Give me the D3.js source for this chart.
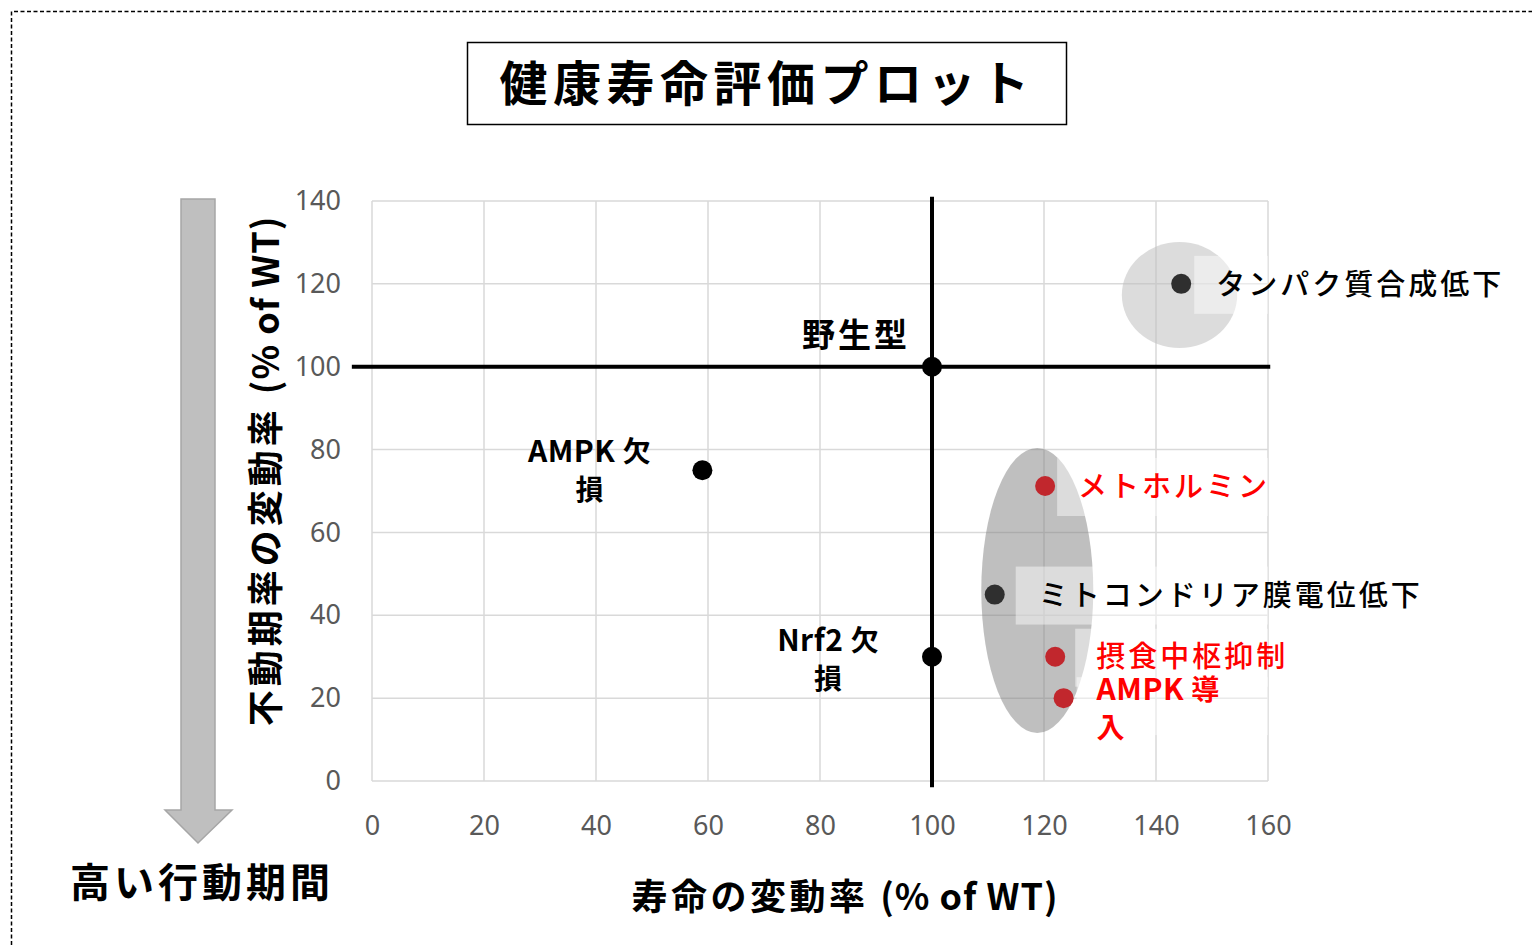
<!DOCTYPE html>
<html lang="ja">
<head>
<meta charset="UTF-8">
<title>健康寿命評価プロット</title>
<script src="https://cdnjs.cloudflare.com/ajax/libs/d3/7.9.0/d3.min.js"></script>
<style>
  body { margin: 0; background: #fff; }
  svg { display: block; font-family: "Noto Sans CJK JP", "Noto Sans", sans-serif; }
  .tick text { fill: #595959; font-size: 27px; font-family: "Noto Sans", "Noto Sans CJK JP", sans-serif; }
</style>
</head>
<body>
<svg id="chart" width="1532" height="945"></svg>
<script>
// data
const names   = ['野生型', 'AMPK 欠損', 'Nrf2 欠損', 'タンパク質合成低下', 'メトホルミン', 'ミトコンドリア膜電位低下', '摂食中枢抑制', 'AMPK 導入'];
const lifespan = [100, 59, 100, 144.5, 120.2, 111.2, 122, 123.5];   // x, % of WT
const immobile = [100, 75, 30, 120, 71.2, 45, 30, 20];              // y, % of WT
const kind     = ['wt', 'mutant', 'mutant', 'mutant', 'drug', 'mutant', 'drug', 'drug'];
const xTicks = [0, 20, 40, 60, 80, 100, 120, 140, 160];
const yTicks = [0, 20, 40, 60, 80, 100, 120, 140];

const svg = d3.select('#chart');
const W = 1532, H = 945;

// dashed frame
svg.append('path')
    .attr('d', `M11.5,${H} V11.5 H${W}`)
    .attr('fill', 'none').attr('stroke', '#000').attr('stroke-width', 1.5)
    .attr('stroke-dasharray', '4,2.5');

// title box
svg.append('rect').attr('x', 467.5).attr('y', 42.5).attr('width', 599).attr('height', 82)
    .attr('fill', '#fff').attr('stroke', '#000').attr('stroke-width', 1.5);
svg.append('text').attr('x', 767).attr('y', 101).attr('text-anchor', 'middle')
    .attr('font-size', 48).attr('font-weight', 'bold').attr('letter-spacing', 5.5)
    .text('健康寿命評価プロット');

const margin = { left: 372, top: 201, right: W - 1268, bottom: H - 781 };
const width = W - margin.left - margin.right;
const height = H - margin.top - margin.bottom;

const x = d3.scaleLinear().domain([0, 160]).range([margin.left, margin.left + width]);
const y = d3.scaleLinear().domain([0, 140]).range([margin.top + height, margin.top]);

// grid
const grid = svg.append('g');
grid.selectAll('line.v').data(xTicks).enter().append('line')
    .attr('x1', d => x(d)).attr('x2', d => x(d))
    .attr('y1', y(0)).attr('y2', y(140))
    .attr('stroke', '#d9d9d9').attr('stroke-width', 1.5);
grid.selectAll('line.h').data(yTicks).enter().append('line')
    .attr('x1', x(0)).attr('x2', x(160))
    .attr('y1', d => y(d)).attr('y2', d => y(d))
    .attr('stroke', '#d9d9d9').attr('stroke-width', 1.5);

// axes (labels only)
const xAxis = svg.append('g').attr('transform', `translate(0,${y(0) + 30})`)
    .call(d3.axisBottom(x).tickValues(xTicks).tickSize(0).tickPadding(0));
xAxis.select('.domain').remove();
xAxis.selectAll('text').attr('dy', '0.9em');

const yAxis = svg.append('g').attr('transform', `translate(${x(0) - 31},0)`)
    .call(d3.axisLeft(y).tickValues(yTicks).tickSize(0).tickPadding(0));
yAxis.select('.domain').remove();

// group ellipses (annotations in data units)
const groups = [
    { cx: 144.2, cy: 117.3, rx: 10.3, ry: 12.8, fill: 'rgba(191,191,191,0.55)' },
    { cx: 118.8, cy: 46,    rx: 10,   ry: 34.4, fill: 'rgba(128,128,128,0.5)' }
];
svg.selectAll('ellipse').data(groups).enter().append('ellipse')
    .attr('cx', d => x(d.cx)).attr('cy', d => y(d.cy))
    .attr('rx', d => x(d.rx) - x(0)).attr('ry', d => y(0) - y(d.ry))
    .attr('fill', d => d.fill);

// wild type cross lines
const wt = names.indexOf('野生型');
svg.append('line')
    .attr('x1', x(-3.6)).attr('x2', x(160.4))
    .attr('y1', y(immobile[wt])).attr('y2', y(immobile[wt]))
    .attr('stroke', '#000').attr('stroke-width', 4);
svg.append('line')
    .attr('x1', x(lifespan[wt])).attr('x2', x(lifespan[wt]))
    .attr('y1', y(141)).attr('y2', y(-1.5))
    .attr('stroke', '#000').attr('stroke-width', 4);

const points = names.map((n, i) => ({ name: n, x: lifespan[i], y: immobile[i], kind: kind[i] }));
const rightLabels = points.filter(d => ['タンパク質合成低下', 'メトホルミン', 'ミトコンドリア膜電位低下', '摂食中枢抑制'].includes(d.name));
const textOffset = { 'タンパク質合成低下': 35, 'メトホルミン': 33, 'ミトコンドリア膜電位低下': 44, '摂食中枢抑制': 41 };
const boxOffset = { 'タンパク質合成低下': 13, 'メトホルミン': 12, 'ミトコンドリア膜電位低下': 21, '摂食中枢抑制': 20 };

// label backgrounds
svg.selectAll('rect.lbl').data(rightLabels).enter().append('rect')
    .attr('x', d => x(d.x) + boxOffset[d.name]).attr('y', d => y(d.y) - 28)
    .attr('width', d => Math.max(0, x(160) - x(d.x) - boxOffset[d.name])).attr('height', 58)
    .attr('fill', 'rgba(255,255,255,0.45)');
const ampkIn = points.find(d => d.name === 'AMPK 導入');
svg.append('rect').attr('x', x(ampkIn.x) + 13).attr('y', y(ampkIn.y) - 21)
    .attr('width', x(160) - x(ampkIn.x) - 13).attr('height', 58)
    .attr('fill', 'rgba(255,255,255,0.45)');

// markers
const inGroup = d => d.x > 105;
svg.selectAll('circle').data(points).enter().append('circle')
    .attr('cx', d => x(d.x)).attr('cy', d => y(d.y)).attr('r', 10)
    .attr('fill', d => d.kind === 'drug' ? '#c1272d' : (inGroup(d) ? '#2f2f2f' : '#000'));

// labels
const lab = svg.append('g').attr('font-weight', 'bold');
lab.append('text').attr('x', x(100) - 22).attr('y', y(100) - 31).attr('dy', '0.35em')
    .attr('text-anchor', 'end').attr('font-size', 33).attr('letter-spacing', 3).text('野生型');

// name split into "latin part + first kanji" / "last kanji"
function twoLine(name, cx, cy, anchor, color) {
    const parts = name.split(' ');
    const g = lab.append('g').attr('font-size', 28).attr('fill', color).attr('text-anchor', anchor);
    const t1 = g.append('text').attr('x', cx).attr('y', cy).attr('dy', '0.35em');
    t1.append('tspan').attr('font-size', 30).attr('letter-spacing', 0.5).text(parts[0] + ' ');
    t1.append('tspan').text(parts[1].slice(0, 1));
    g.append('text').attr('x', cx).attr('y', cy + 38).attr('dy', '0.35em').text(parts[1].slice(1));
}
const ampk = points.find(d => d.name === 'AMPK 欠損');
twoLine(ampk.name, x(ampk.x) - 113, y(ampk.y) - 18, 'middle', '#000');
const nrf = points.find(d => d.name === 'Nrf2 欠損');
twoLine(nrf.name, x(nrf.x) - 104, y(nrf.y) - 16, 'middle', '#000');
twoLine(ampkIn.name, x(ampkIn.x) + 33, y(ampkIn.y) - 8, 'start', '#ff0000');

lab.selectAll('text.r').data(rightLabels).enter().append('text')
    .attr('x', d => x(d.x) + textOffset[d.name])
    .attr('y', d => y(d.y) + (d.name === '摂食中枢抑制' ? 0 : 1)).attr('dy', '0.35em')
    .attr('font-size', 29).attr('font-weight', 500).attr('letter-spacing', 3)
    .attr('fill', d => d.kind === 'drug' ? '#ff0000' : '#000')
    .text(d => d.name);

// axis titles
const xt = svg.append('text').attr('x', 845).attr('y', 897).attr('dy', '0.35em').attr('text-anchor', 'middle')
    .attr('font-size', 36).attr('font-weight', 'bold');
xt.append('tspan').attr('letter-spacing', 3.5).text('寿命の変動率 ');
xt.append('tspan').attr('letter-spacing', 1).text('(% of WT)');

const yt = svg.append('text').attr('transform', 'translate(266,471) rotate(-90)').attr('dy', '0.35em')
    .attr('text-anchor', 'middle').attr('font-size', 36).attr('font-weight', 'bold');
yt.append('tspan').attr('letter-spacing', 4).text('不動期率の変動率 ');
yt.append('tspan').attr('letter-spacing', 1).text('(% of WT)');

// arrow down
svg.append('path')
    .attr('d', 'M181,199 H215 V810 H232 L198,843 L165,810 H181 Z')
    .attr('fill', '#bfbfbf').attr('stroke', '#a6a6a6').attr('stroke-width', 1.5);
svg.append('text').attr('x', 70).attr('y', 883).attr('dy', '0.35em')
    .attr('font-size', 40).attr('font-weight', 'bold').attr('letter-spacing', 4)
    .text('高い行動期間');
</script>
</body>
</html>
